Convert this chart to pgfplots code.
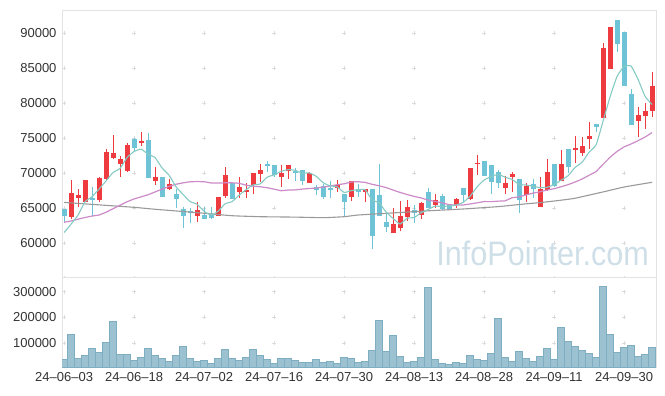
\documentclass[border=0pt]{standalone}
\usepackage{fontspec}
\setmainfont{Liberation Sans}
\usepackage{pgfplots}
\usepackage{pgfplotstable}
\pgfplotsset{compat=1.18}

\definecolor{upc}{HTML}{EE3B40}
\definecolor{dnc}{HTML}{6EC3D6}
\definecolor{lineshort}{HTML}{85CBC3}
\definecolor{linemid}{HTML}{CC8BC8}
\definecolor{linelong}{HTML}{9A9A9A}
\definecolor{volf}{HTML}{9CC2D2}
\definecolor{vold}{HTML}{7FAEC3}
\definecolor{framec}{HTML}{E3E3E3}
\definecolor{gridc}{HTML}{DCDCDC}
\definecolor{tickc}{HTML}{333333}
\definecolor{wmc}{HTML}{CFDFE8}

% rising candles: index open high low close
\pgfplotstableread{
i o h l c
1 63700 69000 63500 67200
2 66500 67700 65200 66800
3 65900 69000 65800 69000
5 66200 69500 65900 69300
6 69100 73400 68900 73000
7 72200 75500 72000 72800
8 71300 72400 69400 72000
9 70300 74300 70100 74000
11 74300 75800 73900 74600
13 68900 70900 68300 69500
15 67700 69200 67600 68400
19 63900 65900 63000 64700
22 63900 66600 63800 66600
23 66700 70800 66500 69700
25 67300 69400 66500 68000
26 67400 68600 66400 67500
27 68300 70000 67000 70000
28 69900 71300 68700 70400
31 69400 71100 68000 70000
32 70300 71200 69100 71200
35 68600 70200 68600 70000
39 67900 69000 67300 68300
41 66600 68900 66000 68900
43 67300 67700 65900 67700
47 61500 65000 61400 62700
48 62200 66000 61700 63800
49 63700 66100 63200 65100
51 64000 65800 63400 65700
53 65500 67000 65000 66200
56 65500 66500 65000 66300
58 66300 70700 66200 70700
59 71300 72600 69700 71500
63 67900 69600 67000 68600
64 69400 70100 67300 69900
66 66800 68600 65900 68200
68 65200 69400 65100 67700
69 67600 72000 67400 70100
71 68900 73300 68800 71300
73 73300 75300 71400 73600
74 72900 75200 72400 73800
75 74900 77300 73400 75300
77 77900 88600 77900 87900
78 84800 90900 84800 90900
82 77500 79500 75100 78300
83 78100 80000 76300 78900
84 78900 84400 78000 82500
}\upT

% falling candles
\pgfplotstableread{
i o h l c
0 64900 64900 63000 63800
4 66400 68000 63900 66300
10 74900 75000 73200 73600
12 74700 75700 69300 69300
14 69500 69500 66600 66600
16 67000 67700 65000 66300
17 64900 65200 62200 63900
18 64600 65000 62900 64400
20 64000 65200 63400 63400
21 64200 65100 63500 63600
24 68600 68600 66300 66300
29 71200 71700 70100 71100
30 71100 71200 69400 69700
33 70300 70700 68800 70000
34 70400 70500 68300 68900
36 68000 68300 66900 67600
37 68200 68500 66300 66600
38 67800 68800 66400 67700
40 67000 67000 63800 65900
42 67700 68500 66600 67300
44 67700 67700 59100 61000
45 66900 71300 63800 63800
46 63000 64400 61600 62300
50 64700 65400 62800 64300
52 67300 67800 65000 65000
54 66700 67000 64700 64900
55 65500 65500 64700 64700
57 67900 67900 65900 66900
60 71700 71700 69600 69600
61 71100 71100 67000 68700
62 70100 70400 67900 68600
65 69200 69200 64300 66100
67 68400 69200 66400 67700
70 71300 71300 68000 68100
72 73400 73400 70000 70900
76 77000 77000 75900 76600
79 91900 91900 87300 88400
80 90200 90200 82400 82400
81 81300 82000 76800 76800
}\dnT

% 5-day moving average
\pgfplotstableread{
i m
0 61500
1 62700
2 64000
3 65900
4 66620
5 67720
6 68880
7 70080
8 70680
9 72220
10 73080
11 73400
12 72700
13 72200
14 70720
15 69680
16 68020
17 66940
18 65920
19 65540
20 64540
21 64000
22 64540
23 65600
24 65920
25 66840
26 67620
27 68300
28 68440
29 69400
30 69740
31 70240
32 70480
33 70400
34 69960
35 70020
36 69540
37 68620
38 68160
39 68040
40 67220
41 67480
42 67620
43 67620
44 66160
45 65740
46 64420
47 63500
48 62720
49 63540
50 63640
51 64320
52 64780
53 65260
54 65220
55 65300
56 65420
57 65800
58 66700
59 68020
60 69000
61 69480
62 69820
63 69400
64 69080
65 68380
66 68280
67 68100
68 67920
69 67960
70 68360
71 68980
72 69620
73 70800
74 71540
75 72980
76 74040
77 77440
78 80900
79 83820
80 85240
81 85280
82 83360
83 80960
84 79780
}\maShort

% 20-day moving average
\pgfplotstableread{
i m
0 62960
1 63150
2 63400
3 63650
4 63850
5 64000
6 64400
7 64900
8 65400
9 65900
10 66300
11 66600
12 66900
13 67300
14 67700
15 68100
16 68400
17 68600
18 68750
19 68780
20 68760
21 68580
22 68570
23 68600
24 68600
25 68540
26 68260
27 68120
28 68040
29 67900
30 67700
31 67470
32 67570
33 67590
34 67700
35 67790
36 67850
37 67990
38 68150
39 68330
40 68460
41 68720
42 68760
43 68660
44 68390
45 68180
46 67920
47 67560
48 67230
49 66930
50 66660
51 66440
52 66130
53 65940
54 65740
55 65480
56 65410
57 65430
58 65580
59 65740
60 65920
61 65910
62 65980
63 66020
64 66470
65 66580
66 66880
67 67130
68 67320
69 67570
70 67760
71 68040
72 68340
73 68710
74 69150
75 69680
76 70200
77 71250
78 72260
79 73100
80 73740
81 74150
82 74630
83 75150
84 75780
}\maMid

% 60-day moving average
\pgfplotstableread{
i m
0 65800
5 65450
10 65100
13 64820
17 64500
20 64250
24 63900
28 63760
33 63700
37 63620
40 63760
42 64000
47 64300
52 64600
57 64860
62 65200
66 65600
68 65770
71 66120
73 66400
77 67300
80 68000
84 68680
}\maLong

% volume
\pgfplotstableread{
i v
0 36000
1 134000
2 40000
3 52000
4 79000
5 64000
6 103000
7 184000
8 56000
9 56000
10 32000
11 44000
12 79000
13 52000
14 40000
15 29000
16 52000
17 87000
18 40000
19 29000
20 32000
21 21000
22 40000
23 75000
24 40000
25 32000
26 44000
27 75000
28 52000
29 36000
30 21000
31 40000
32 40000
33 32000
34 25000
35 25000
36 36000
37 25000
38 29000
39 21000
40 44000
41 40000
42 25000
43 29000
44 71000
45 188000
46 68000
47 130000
48 48000
49 25000
50 29000
51 44000
52 317000
53 36000
54 21000
55 17000
56 25000
57 21000
58 52000
59 36000
60 32000
61 60000
62 196000
63 44000
64 29000
65 68000
66 40000
67 29000
68 48000
69 79000
70 36000
71 161000
72 106000
73 87000
74 71000
75 60000
76 44000
77 321000
78 134000
79 64000
80 83000
81 91000
82 48000
83 56000
84 83000
}\volT

\pgfplotsset{
  panel/.style={
    scale only axis,
    width=594.3pt,
    xmin=-0.3, xmax=84.6,
    axis line style={draw=framec},
    tick style={draw=none},
    tick label style={font=\fontsize{13}{15}\selectfont, text=tickc},
    /pgf/number format/assume math mode=true,
    /pgf/number format/fixed,
    /pgf/number format/precision=0,
    /pgf/number format/1000 sep={},
    xtick={0,10,...,80},
    grid=major,
  },
  candle/.style={only marks, mark=*, mark size=0pt,
    mark options={draw=none, fill=none, opacity=0}},
}

\begin{document}
\begin{tikzpicture}
\useasboundingbox (0,0) rectangle (665pt,396pt);

% ---------- price panel ----------
\begin{axis}[panel,
  at={(62pt,118.7pt)}, anchor=south west,
  height=267.3pt,
  ymin=55100, ymax=93300,
  ytick={60000,65000,...,90000},
  scaled y ticks=false,
  xticklabels={},
  major x grid style={draw=gridc, line width=0.6pt, dash pattern=on 4pt off 30.95pt, dash phase=2.7pt},
  major y grid style={draw=gridc, line width=0.6pt, dash pattern=on 4pt off 66pt, dash phase=69.9pt},
  yticklabel style={xshift=-2pt},
]
\node[anchor=base east, text=wmc, inner sep=0pt,
      font=\fontsize{34}{34}\selectfont]
  at (rel axis cs:0.988,0.045) {\scalebox{0.9}[1]{InfoPointer.com}};

% wicks
\addplot[candle, error bars/.cd, y dir=both, y explicit,
  error mark=none, error bar style={draw=upc, line width=1pt}]
  table[x=i, y expr={(\thisrow{h}+\thisrow{l})/2},
        y error expr={(\thisrow{h}-\thisrow{l})/2}] {\upT};
\addplot[candle, error bars/.cd, y dir=both, y explicit,
  error mark=none, error bar style={draw=dnc, line width=1pt}]
  table[x=i, y expr={(\thisrow{h}+\thisrow{l})/2},
        y error expr={(\thisrow{h}-\thisrow{l})/2}] {\dnT};
% bodies
\addplot[candle, error bars/.cd, y dir=both, y explicit,
  error mark=none, error bar style={draw=upc, line width=5pt}]
  table[x=i, y expr={(\thisrow{o}+\thisrow{c})/2},
        y error expr={max(abs(\thisrow{c}-\thisrow{o})/2,75)}] {\upT};
\addplot[candle, error bars/.cd, y dir=both, y explicit,
  error mark=none, error bar style={draw=dnc, line width=5pt}]
  table[x=i, y expr={(\thisrow{o}+\thisrow{c})/2},
        y error expr={max(abs(\thisrow{c}-\thisrow{o})/2,75)}] {\dnT};

% moving averages
\addplot[draw=linelong, line width=1.1pt, mark=none, smooth, tension=0.3] table[x=i, y=m] {\maLong};
\addplot[draw=linemid, line width=1.2pt, mark=none] table[x=i, y=m] {\maMid};
\addplot[draw=lineshort, line width=1.1pt, mark=none, smooth, tension=0.3] table[x=i, y=m] {\maShort};
\end{axis}

% ---------- volume panel ----------
\begin{axis}[panel,
  at={(62pt,28.7pt)}, anchor=south west,
  height=90pt,
  ymin=5300, ymax=356000,
  ytick={100000,200000,300000},
  scaled y ticks=false,
  xticklabels={24–06–03,24–06–18,24–07–02,24–07–16,24–07–30,24–08–13,24–08–28,24–09–11,24–09–30},
  major x grid style={draw=gridc, line width=0.6pt, dash pattern=on 4pt off 21.66pt, dash phase=3.36pt},
  major y grid style={draw=gridc, line width=0.6pt, dash pattern=on 4pt off 66pt, dash phase=69.9pt},
  yticklabel style={xshift=-2pt},
  xticklabel style={yshift=-2pt},
]
\addplot[ybar, bar width=7pt, fill=volf, draw=vold, line width=0.6pt] table[x=i, y=v] {\volT};
\end{axis}
\end{tikzpicture}
\end{document}
